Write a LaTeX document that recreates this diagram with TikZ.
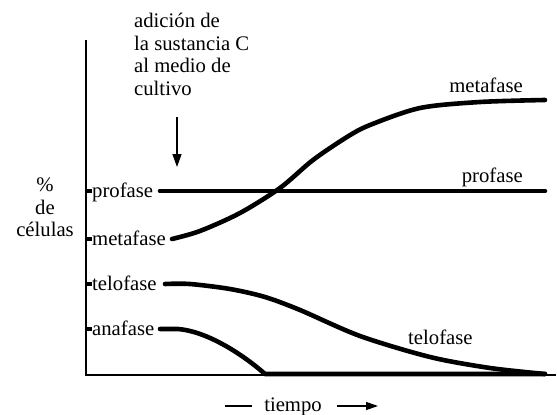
\documentclass[tikz,border=0pt]{standalone}
\usepackage{fontspec}
\setmainfont{Liberation Serif}
\usetikzlibrary{arrows.meta}

\tikzset{
  phase/.style={line width=4.6pt, line cap=round, line join=round},
  tickmark/.style={line width=4.5pt},
  lbl/.style={inner sep=0pt, anchor=base west},
  rlbl/.style={inner sep=0pt, anchor=base east},
}

\begin{document}
\begin{tikzpicture}[x=1pt, y=-1pt, font=\fontsize{20.7}{22.5}\selectfont]
  \useasboundingbox (0,0) rectangle (557,415);

  % Axes
  \draw[line width=1.5pt] (86,40) -- (86,375) -- (556,375);

  % Ticks and labels on the left
  \foreach \y/\n/\t in {191/pro/profase, 239/meta/metafase, 284/telo/telofase, 329/ana/anafase} {
    \draw[tickmark] (86,\y) -- (92,\y);
    \node[lbl] (l\n) at (92,\y+6) {\t};
  }

  % Axis label
  \node[inner sep=0pt, anchor=north, align=center] (ylab) at (45,178) {\%\\de\\células};

  % Added substance
  \node[inner sep=0pt, anchor=north west, align=left] (add) at (134,13)
    {adición de\\la sustancia C\\al medio de\\cultivo};
  \coordinate (addS) at (177,117);
  \coordinate (addE) at (177,167);
  \draw[line width=1.3pt, -{Triangle[length=13pt,width=9pt]}] (addS) -- (addE);

  % Curves
  \draw[phase] (160,191) -- (545,191);
  \draw[phase] plot[smooth] coordinates {(172,239) (200,231) (240,213) (280,188)
    (313,160) (347,137) (370,125) (420,108) (480,102) (545,100)};
  \draw[phase] plot[smooth] coordinates {(165,284) (190,284) (230,289) (265,297)
    (300,310) (360,336) (430,357) (490,368) (545,374)};
  \draw[phase] (160,329) -- (178,329) .. controls (205,331) and (240,352) .. (265,374) -- (545,374);

  % Labels on the right
  \node[rlbl] (rmeta) at (523,92) {metafase};
  \node[rlbl] (rpro) at (523,182) {profase};
  \node[lbl] (rtelo) at (408,344) {telofase};

  % Time axis label
  \node[inner sep=0pt, anchor=base] (tiempo) at (293,411) {tiempo};
  \coordinate (dashA) at (225,406);
  \coordinate (dashB) at (252,406);
  \coordinate (arrA) at (337,406);
  \coordinate (arrB) at (378,406);
  \draw[line width=1.2pt] (dashA) -- (dashB);
  \draw[line width=1.2pt, -{Triangle[length=12pt,width=8pt]}] (arrA) -- (arrB);
\end{tikzpicture}
\end{document}
